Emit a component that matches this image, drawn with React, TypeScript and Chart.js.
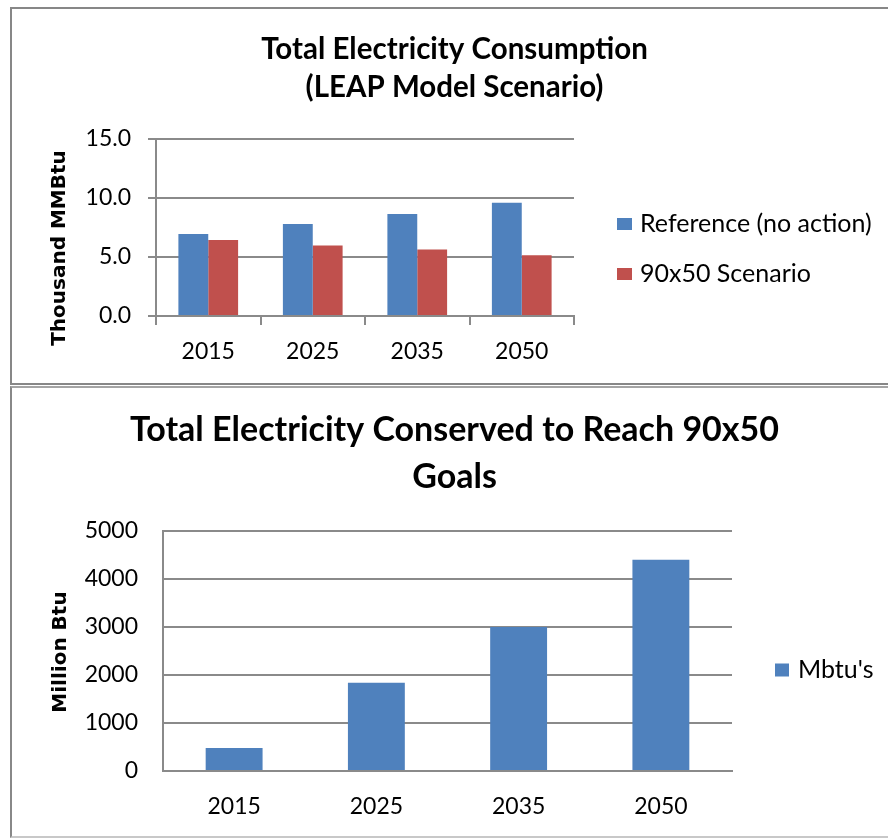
import React, { useEffect, useRef } from 'react';
import { Chart, registerables } from 'chart.js';

Chart.register(...registerables);

// ---- data ----
const years = ['2015', '2025', '2035', '2050'];
const referenceValues = [6.95, 7.8, 8.65, 9.6];
const scenarioValues = [6.45, 5.97, 5.63, 5.15];
const conservedValues = [480, 1840, 3000, 4400];

const consumptionTitle = ['Total Electricity Consumption', '(LEAP Model Scenario)'];
const conservedTitle = ['Total Electricity Conserved to Reach 90x50', 'Goals'];
const consumptionAxisTitle = 'Thousand MMBtu';
const conservedAxisTitle = 'Million Btu';
const referenceLabel = 'Reference (no action)';
const scenarioLabel = '90x50 Scenario';
const conservedLabel = "Mbtu's";

const BLUE = '#4F81BD';
const RED = '#C0504D';
const GRID = '#8a8a8a';
const BASE_FONT = 'Lato, "Noto Sans", sans-serif';
const AXIS_TITLE_FONT = 'bold 20px "DejaVu Sans", Verdana, sans-serif';

// draws rotated y-axis title and the legend (positions in canvas pixels)
const annotPlugin = {
  id: 'annot',
  afterDraw(chart: any, _args: any, opts: any) {
    const ctx = chart.ctx as CanvasRenderingContext2D;
    ctx.save();
    ctx.translate(opts.yTitleX, opts.yTitleY);
    ctx.rotate(-Math.PI / 2);
    ctx.font = AXIS_TITLE_FONT;
    ctx.fillStyle = '#000';
    ctx.textAlign = 'center';
    ctx.textBaseline = 'middle';
    ctx.fillText(opts.yTitle, 0, 0);
    ctx.restore();

    ctx.save();
    const x0 = chart.chartArea.right + opts.legendDx;
    chart.data.datasets.forEach((ds: any, i: number) => {
      const cy = opts.legendY + i * opts.legendGap;
      ctx.fillStyle = ds.backgroundColor;
      ctx.fillRect(x0, cy - opts.boxH / 2, opts.boxW, opts.boxH);
      ctx.fillStyle = '#000';
      ctx.font = `${opts.legendSize}px ${BASE_FONT}`;
      ctx.textAlign = 'left';
      ctx.textBaseline = 'middle';
      ctx.fillText(ds.label, x0 + opts.boxW + opts.textGap, cy);
    });
    ctx.restore();
  },
};

const tickFont = { family: BASE_FONT, size: 23, lineHeight: 1.2 };

// invisible right-side scale that reserves room for the legend
const spacerScale = (w: number) => ({
  type: 'linear',
  position: 'right',
  display: true,
  grid: { display: false, drawTicks: false },
  border: { display: false },
  ticks: { display: false },
  afterFit: (s: any) => { s.width = w; },
});

export default function App() {
  const c1 = useRef<HTMLCanvasElement>(null);
  const c2 = useRef<HTMLCanvasElement>(null);

  useEffect(() => {
    const chart1 = new Chart(c1.current as HTMLCanvasElement, {
      type: 'bar',
      data: {
        labels: years,
        datasets: [
          { label: referenceLabel, data: referenceValues, backgroundColor: BLUE, categoryPercentage: 2 / 3.5, barPercentage: 1 },
          { label: scenarioLabel, data: scenarioValues, backgroundColor: RED, categoryPercentage: 2 / 3.5, barPercentage: 1 },
        ],
      },
      options: {
        responsive: false,
        animation: false,
        devicePixelRatio: 1,
        layout: { padding: 0 },
        plugins: {
          legend: { display: false },
          tooltip: { enabled: false },
          title: {
            display: true,
            text: consumptionTitle,
            color: '#000',
            font: { family: BASE_FONT, size: 29.5, weight: 'bold', lineHeight: '38px' },
            padding: { top: 21, bottom: 33 },
          },
          annot: {
            yTitle: consumptionAxisTitle, yTitleX: 48, yTitleY: 239,
            legendDx: 43, legendY: 215, legendGap: 50, boxW: 15, boxH: 12, textGap: 8, legendSize: 25,
          },
        } as any,
        scales: {
          x: {
            grid: { offset: true, drawOnChartArea: false, drawTicks: true, tickLength: 9, color: GRID, lineWidth: 2 },
            border: { display: true, color: GRID, width: 2 },
            ticks: { color: '#000', font: tickFont, padding: 13 },
            afterFit: (s: any) => { s.height = 67; },
          },
          y: {
            min: 0,
            max: 15,
            ticks: { stepSize: 5, color: '#000', font: tickFont, padding: 17, callback: (v: any) => Number(v).toFixed(1) },
            grid: { color: GRID, lineWidth: 2, drawTicks: true, tickLength: 8 },
            border: { display: true, color: GRID, width: 2 },
            afterFit: (s: any) => { s.width = 144; },
          },
          spacer: spacerScale(323),
        } as any,
      },
      plugins: [annotPlugin],
    });

    const chart2 = new Chart(c2.current as HTMLCanvasElement, {
      type: 'bar',
      data: {
        labels: years,
        datasets: [
          { label: conservedLabel, data: conservedValues, backgroundColor: BLUE, categoryPercentage: 0.4, barPercentage: 1 },
        ],
      },
      options: {
        responsive: false,
        animation: false,
        devicePixelRatio: 1,
        layout: { padding: 0 },
        plugins: {
          legend: { display: false },
          tooltip: { enabled: false },
          title: {
            display: true,
            text: conservedTitle,
            color: '#000',
            font: { family: BASE_FONT, size: 34, weight: 'bold', lineHeight: '47px' },
            padding: { top: 18.5, bottom: 30.5 },
          },
          annot: {
            yTitle: conservedAxisTitle, yTitleX: 49, yTitleY: 264,
            legendDx: 43, legendY: 282, legendGap: 50, boxW: 14, boxH: 13, textGap: 9, legendSize: 25,
          },
        } as any,
        scales: {
          x: {
            grid: { offset: true, drawOnChartArea: false, drawTicks: false },
            border: { display: true, color: GRID, width: 2 },
            ticks: { color: '#000', font: tickFont, padding: 21.6 },
            afterFit: (s: any) => { s.height = 65; },
          },
          y: {
            min: 0,
            max: 5000,
            ticks: { stepSize: 1000, color: '#000', font: tickFont, padding: 25, callback: (v: any) => String(v) },
            grid: { color: GRID, lineWidth: 2, drawTicks: false },
            border: { display: true, color: GRID, width: 2 },
            afterFit: (s: any) => { s.width = 151; },
          },
          spacer: spacerScale(165),
        } as any,
      },
      plugins: [annotPlugin],
    });

    return () => {
      chart1.destroy();
      chart2.destroy();
    };
  }, []);

  return (
    <div style={{ position: 'absolute', left: 0, top: 0, width: 888, height: 838, overflow: 'hidden', background: '#fff' }}>
      <div style={{ position: 'absolute', left: 10, top: 7, width: 889, height: 378, boxSizing: 'border-box', border: '2px solid #878787' }} />
      <canvas ref={c1} width={885} height={374} style={{ position: 'absolute', left: 12, top: 9, width: 885, height: 374 }} />
      <div
        style={{
          position: 'absolute', left: 10, top: 386, width: 889, height: 452, boxSizing: 'border-box',
          borderLeft: '2px solid #888', borderTop: '2px solid #a4a4a4', borderBottom: '2px solid #c8c8c8', borderRight: '2px solid #888',
        }}
      />
      <canvas ref={c2} width={885} height={448} style={{ position: 'absolute', left: 12, top: 388, width: 885, height: 448 }} />
    </div>
  );
}
